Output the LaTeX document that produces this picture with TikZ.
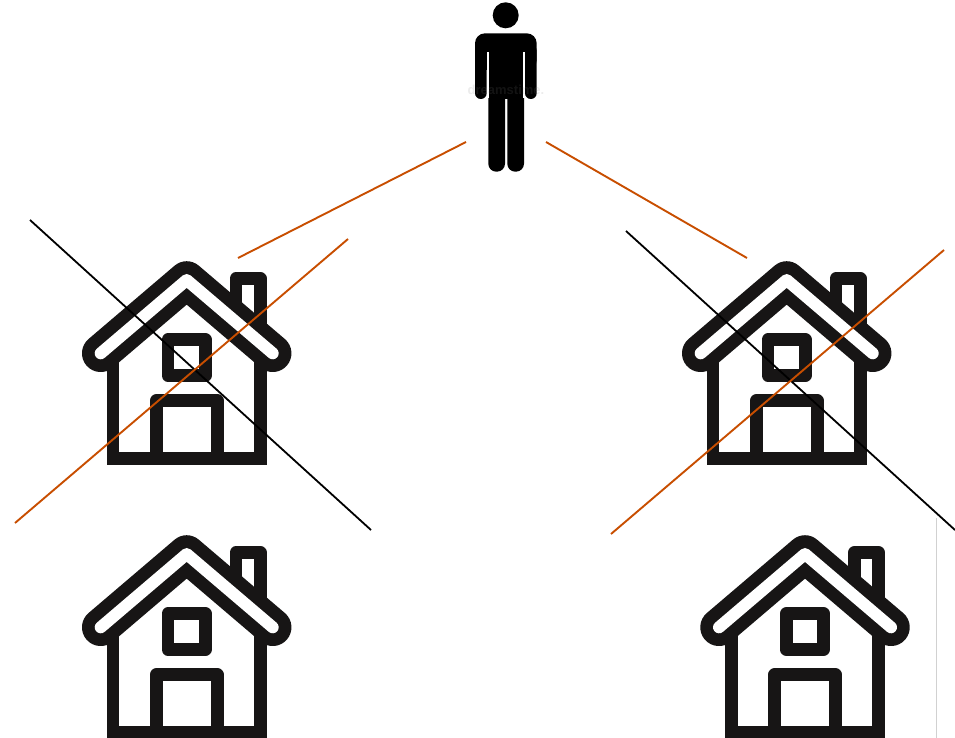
\documentclass[tikz,border=0pt]{standalone}
\usepackage{fontspec}
\setmainfont{Liberation Sans}
\definecolor{ink}{HTML}{171515}
\definecolor{rust}{HTML}{C84E00}
\tikzset{
  x=1pt,y=-1pt,
  wire/.style={line width=1.8pt,draw=black},
  rustwire/.style={line width=1.9pt,draw=rust},
  houseline/.style={draw=ink,line width=12.7pt,line join=round},
  wallline/.style={draw=ink,line width=12.7pt,line join=miter},
  roofband/.style={draw=ink,line width=37.5pt,line cap=round,line join=round},
  roofslot/.style={draw=white,line width=12pt,line cap=round,line join=round},
  house/.pic={
    \draw[houseline] (49.3,40) -- (49.3,-1.4) -- (73.7,-1.4) -- (73.7,45);
    \draw[wallline] (-73.7,70) -- (-73.7,178.8) -- (73.7,178.8) -- (73.7,70);
    \draw[houseline] (-30.5,178.8) -- (-30.5,120.8) -- (30.6,120.8) -- (30.6,178.8);
    \draw[houseline] (-18.7,59.7) rectangle (18.6,95.5);
    \draw[roofband] (-86,73.3) -- (0,0) -- (86,73.3);
    \draw[roofslot] (-86,73.3) -- (0,0) -- (86,73.3);
  }
}
\begin{document}
\begin{tikzpicture}
\useasboundingbox (0,0) rectangle (955,738);
\fill[white] (0,0) rectangle (955,738);
\clip (0,0) rectangle (955,738);

% light edge at lower right
\coordinate (edgeT) at (936,518);
\coordinate (edgeB) at (936,738);
\draw[line width=1pt,draw=black!18] (edgeT) -- (edgeB);

% houses
\pic (houseA) at (186.7,280) {house};
\pic (houseB) at (786.7,280) {house};
\pic (houseC) at (186.7,554) {house};
\pic (houseD) at (805,554) {house};

% person
\fill[black] (505.7,15.3) circle (13);
\fill[black, rounded corners=10pt] (475,33.3) rectangle (536.7,70);
\fill[black] (489,50) rectangle (522.7,99.5);
\fill[black, rounded corners=5.8pt] (475,45) rectangle (486.7,99);
\fill[black, rounded corners=5.8pt] (525,45) rectangle (536.7,99);
\fill[black, rounded corners=8pt] (488.3,75) rectangle (505,171.7);
\fill[black, rounded corners=8pt] (507.3,75) rectangle (524,171.7);
\fill[black] (500,75) rectangle (512,99.5);
\fill[white] (486.7,52) rectangle (489,98);
\fill[white] (522.7,52) rectangle (525,98);
\node[text=gray,opacity=0.15,font=\bfseries\fontsize{13}{15}\selectfont,inner sep=0pt] (mark) at (506,90) {dreamstime.};

% connector end points
\coordinate (p1) at (466,142);
\coordinate (p2) at (238,258);
\coordinate (p3) at (546,142);
\coordinate (p4) at (747,258);
\coordinate (a1) at (30,220);
\coordinate (a2) at (371,530);
\coordinate (a3) at (348,239);
\coordinate (a4) at (15,523);
\coordinate (b1) at (626,231);
\coordinate (b2) at (955,530);
\coordinate (b3) at (944,250);
\coordinate (b4) at (611,534);

\draw[rustwire] (p1) -- (p2);
\draw[rustwire] (p3) -- (p4);
\draw[wire] (a1) -- (a2);
\draw[rustwire] (a3) -- (a4);
\draw[wire] (b1) -- (b2);
\draw[rustwire] (b3) -- (b4);
\end{tikzpicture}
\end{document}
